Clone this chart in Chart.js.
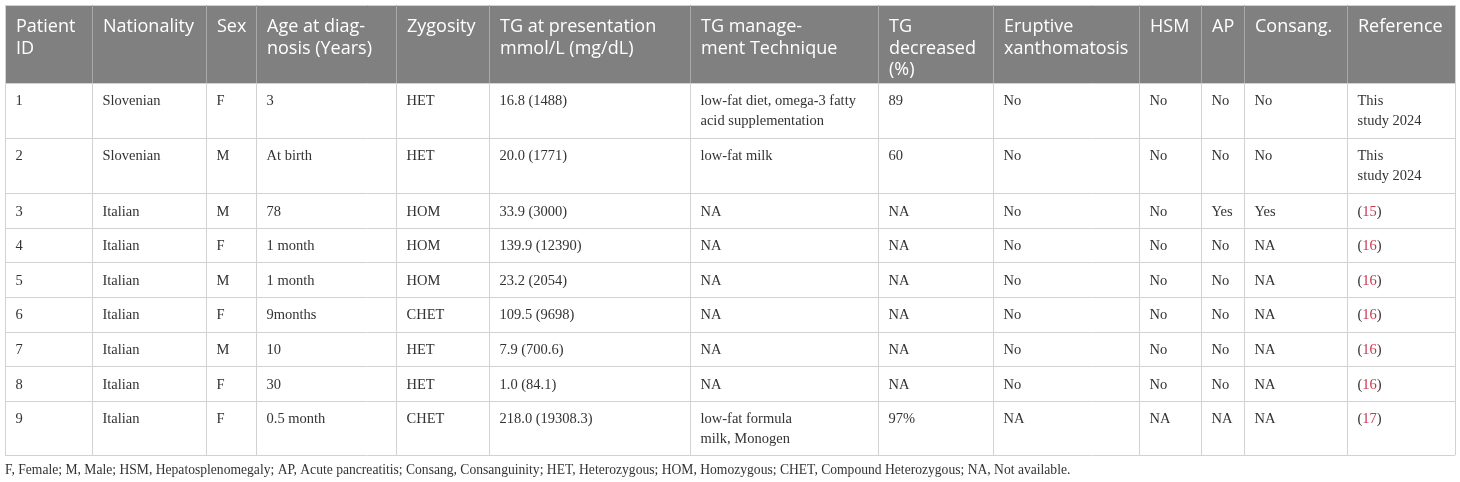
<!DOCTYPE html>
<html>
<head>
<meta charset="utf-8">
<script src="https://cdn.jsdelivr.net/npm/chart.js@4/dist/chart.umd.min.js"></script>
<style>
  html, body { margin: 0; padding: 0; background: #fff; }
  #wrap { width: 1460px; height: 482px; position: relative; }
</style>
</head>
<body>
<div id="wrap"><canvas id="tableChart"></canvas></div>
<script>
// table content
const columns = ["Patient\nID", "Nationality", "Sex", "Age at diag-\nnosis (Years)", "Zygosity",
  "TG at presentation\nmmol/L (mg/dL)", "TG manage-\nment Technique", "TG\ndecreased\n(%)",
  "Eruptive\nxanthomatosis", "HSM", "AP", "Consang.", "Reference"];

const patientId = ["1", "2", "3", "4", "5", "6", "7", "8", "9"];
const nationality = ["Slovenian", "Slovenian", "Italian", "Italian", "Italian", "Italian", "Italian", "Italian", "Italian"];
const sex = ["F", "M", "M", "F", "M", "F", "M", "F", "F"];
const ageAtDiagnosis = ["3", "At birth", "78", "1 month", "1 month", "9months", "10", "30", "0.5 month"];
const zygosity = ["HET", "HET", "HOM", "HOM", "HOM", "CHET", "HET", "HET", "CHET"];
const tgPresentation = ["16.8 (1488)", "20.0 (1771)", "33.9 (3000)", "139.9 (12390)", "23.2 (2054)",
  "109.5 (9698)", "7.9 (700.6)", "1.0 (84.1)", "218.0 (19308.3)"];
const tgManagement = ["low-fat diet, omega-3 fatty\nacid supplementation", "low-fat milk", "NA", "NA", "NA",
  "NA", "NA", "NA", "low-fat formula\nmilk, Monogen"];
const tgDecreased = ["89", "60", "NA", "NA", "NA", "NA", "NA", "NA", "97%"];
const eruptive = ["No", "No", "No", "No", "No", "No", "No", "No", "NA"];
const hsm = ["No", "No", "No", "No", "No", "No", "No", "No", "NA"];
const ap = ["No", "No", "Yes", "No", "No", "No", "No", "No", "NA"];
const consang = ["No", "No", "Yes", "NA", "NA", "NA", "NA", "NA", "NA"];
const reference = ["This\nstudy 2024", "This\nstudy 2024", "(15)", "(16)", "(16)", "(16)", "(16)", "(16)", "(17)"];

const footnote = "F, Female; M, Male; HSM, Hepatosplenomegaly; AP, Acute pancreatitis; Consang, Consanguinity; " +
  "HET, Heterozygous; HOM, Homozygous; CHET, Compound Heterozygous; NA, Not available.";

const tableColumns = [patientId, nationality, sex, ageAtDiagnosis, zygosity, tgPresentation,
  tgManagement, tgDecreased, eruptive, hsm, ap, consang, reference];

// layout (in scale units, the scales span the whole canvas)
const colEdges = [5, 92, 206, 256, 396, 489, 690, 878, 993, 1139, 1201, 1244, 1347, 1455];
const rowEdges = [5, 83, 138, 193.3, 227.7, 262.3, 297, 331.7, 366.3, 400.7, 455.3];

const tablePlugin = {
  id: "tablePlugin",
  afterDraw(chart) {
    const ctx = chart.ctx;
    const xs = chart.scales.x;
    const ys = chart.scales.y;
    const px = v => xs.getPixelForValue(v);
    const py = v => ys.getPixelForValue(v);
    const crisp = v => Math.round(v) + 0.5;

    const left = px(colEdges[0]), right = px(colEdges[colEdges.length - 1]);
    const top = py(rowEdges[0]), headBottom = py(rowEdges[1]);
    const bottom = py(rowEdges[rowEdges.length - 1]);

    ctx.save();
    // header band
    ctx.fillStyle = "#808080";
    ctx.fillRect(left, top, right - left, headBottom - top);

    // grid
    ctx.lineWidth = 1;
    ctx.strokeStyle = "#d2d2d2";
    rowEdges.forEach(r => {
      ctx.beginPath();
      ctx.moveTo(left, crisp(py(r)));
      ctx.lineTo(right, crisp(py(r)));
      ctx.stroke();
    });
    colEdges.forEach((c, i) => {
      ctx.strokeStyle = "#d2d2d2";
      ctx.beginPath();
      ctx.moveTo(crisp(px(c)), headBottom);
      ctx.lineTo(crisp(px(c)), bottom);
      ctx.stroke();
      ctx.strokeStyle = (i === 0 || i === colEdges.length - 1) ? "#d2d2d2" : "#a9a9a9";
      ctx.beginPath();
      ctx.moveTo(crisp(px(c)), top);
      ctx.lineTo(crisp(px(c)), headBottom);
      ctx.stroke();
    });

    // header text
    ctx.fillStyle = "#ffffff";
    ctx.font = "18px 'Open Sans'";
    ctx.textBaseline = "middle";
    columns.forEach((h, i) => {
      h.split("\n").forEach((line, k) => {
        ctx.fillText(line, px(colEdges[i]) + 11, top + 22 + k * 21.5);
      });
    });

    // body text
    ctx.font = "14.5px 'Liberation Serif'";
    tableColumns.forEach((col, i) => {
      col.forEach((cell, r) => {
        const x0 = px(colEdges[i]) + 10.5;
        const y0 = py(rowEdges[r + 1]) + 18.5;
        const cite = /^\((\d+)\)$/.exec(cell);
        if (cite) {
          let x = x0;
          ctx.fillStyle = "#333333";
          ctx.fillText("(", x, y0);
          x += ctx.measureText("(").width;
          ctx.fillStyle = "#c5364f";
          ctx.fillText(cite[1], x, y0);
          x += ctx.measureText(cite[1]).width;
          ctx.fillStyle = "#333333";
          ctx.fillText(")", x, y0);
          return;
        }
        ctx.fillStyle = "#333333";
        cell.split("\n").forEach((line, k) => {
          ctx.fillText(line, x0, y0 + k * 19.5);
        });
      });
    });

    // footnote
    ctx.font = "13.6px 'Liberation Serif'";
    ctx.fillStyle = "#333333";
    ctx.fillText(footnote, left, py(470.5));
    ctx.restore();
  }
};

new Chart(document.getElementById("tableChart"), {
  type: "scatter",
  data: { datasets: [] },
  options: {
    responsive: true,
    maintainAspectRatio: false,
    animation: false,
    layout: { padding: 0 },
    plugins: { legend: { display: false }, tooltip: { enabled: false } },
    scales: {
      x: { type: "linear", min: 0, max: 1460, display: false },
      y: { type: "linear", min: 0, max: 482, reverse: true, display: false }
    }
  },
  plugins: [tablePlugin]
});
</script>
</body>
</html>
